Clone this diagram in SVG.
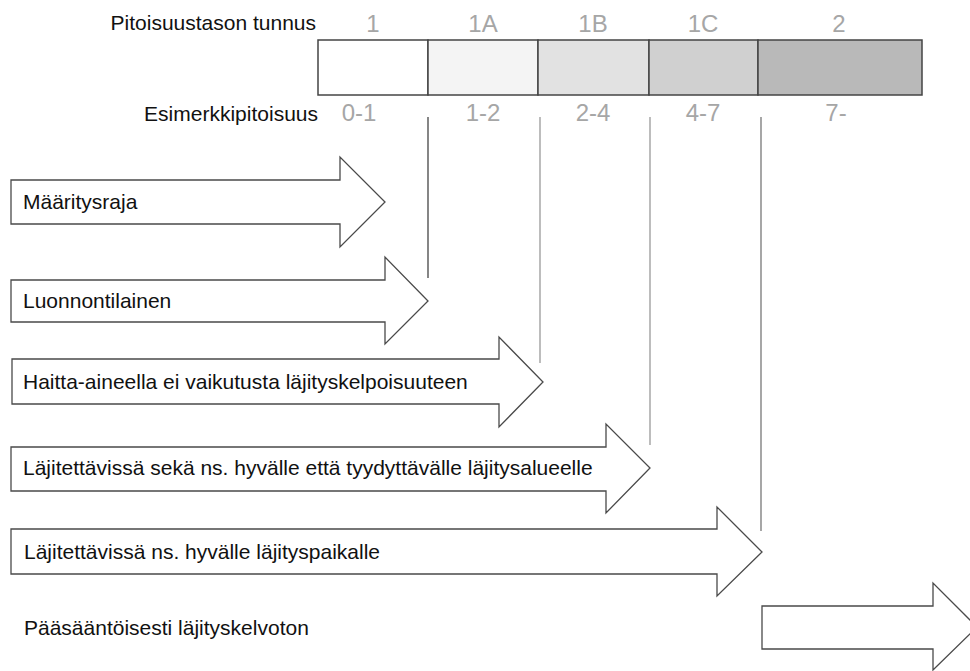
<svg xmlns="http://www.w3.org/2000/svg" width="970" height="671" viewBox="0 0 970 671">
<style>
.lbl{font-family:"Liberation Sans",Arial,sans-serif;font-size:21px;fill:#111}
.gray{font-family:"Liberation Sans",Arial,sans-serif;font-size:24px;fill:#a6a6a6;text-anchor:middle}
.arrow{fill:#fff;stroke:#4a4a4a;stroke-width:1.3;stroke-linejoin:miter}
.cell{stroke:#444;stroke-width:1.5}
</style>
<rect width="970" height="671" fill="#fff"/>
<g id="scale">
<text class="lbl" x="316" y="30" text-anchor="end">Pitoisuustason tunnus</text>
<text class="lbl" x="318" y="121" text-anchor="end">Esimerkkipitoisuus</text>
<rect class="cell" x="318" y="40" width="110" height="55" fill="#ffffff"/>
<rect class="cell" x="428" y="40" width="110" height="55" fill="#f4f4f4"/>
<rect class="cell" x="538" y="40" width="111" height="55" fill="#e2e2e2"/>
<rect class="cell" x="649" y="40" width="109" height="55" fill="#d0d0d0"/>
<rect class="cell" x="758" y="40" width="164" height="55" fill="#b9b9b9"/>
<text class="gray" x="373" y="32">1</text>
<text class="gray" x="483" y="32">1A</text>
<text class="gray" x="593" y="32">1B</text>
<text class="gray" x="703" y="32">1C</text>
<text class="gray" x="839" y="32">2</text>
<text class="gray" x="359" y="121">0-1</text>
<text class="gray" x="483" y="121">1-2</text>
<text class="gray" x="593" y="121">2-4</text>
<text class="gray" x="703" y="121">4-7</text>
<text class="gray" x="836" y="121">7-</text>
</g>
<g id="connectors" fill="none" stroke-width="1.3">
<line x1="428" y1="117" x2="428" y2="278" stroke="#444"/>
<line x1="540" y1="117" x2="540" y2="363" stroke="#999"/>
<line x1="650" y1="117" x2="650" y2="445" stroke="#999"/>
<line x1="761" y1="117" x2="761" y2="531" stroke="#777"/>
</g>
<g id="maaritysraja">
<polygon class="arrow" points="11,180 340,180 340,157 385,202 340,247 340,224 11,224"/>
<text class="lbl" x="23" y="209">Määritysraja</text>
</g>
<g id="luonnontilainen">
<polygon class="arrow" points="11,280 385,280 385,257 428,301 385,344 385,322 11,322"/>
<text class="lbl" x="23" y="308">Luonnontilainen</text>
</g>
<g id="haitta">
<polygon class="arrow" points="12,359 499,359 499,337 543,382 499,427 499,404 12,404"/>
<text class="lbl" x="23" y="389">Haitta-aineella ei vaikutusta läjityskelpoisuuteen</text>
</g>
<g id="hyva-tyydyttava">
<polygon class="arrow" points="11,447 606,447 606,424 650,468 606,513 606,491 11,491"/>
<text class="lbl" x="23" y="475">Läjitettävissä sekä ns. hyvälle että tyydyttävälle läjitysalueelle</text>
</g>
<g id="hyva">
<polygon class="arrow" points="11,529 717,529 717,507 762,552 717,596 717,574 11,574"/>
<text class="lbl" x="24" y="559">Läjitettävissä ns. hyvälle läjityspaikalle</text>
</g>
<g id="kelvoton">
<text class="lbl" x="24" y="635">Pääsääntöisesti läjityskelvoton</text>
<polygon class="arrow" points="762,606 933,606 933,583 977,627 933,670 933,649 762,649"/>
</g>
</svg>
